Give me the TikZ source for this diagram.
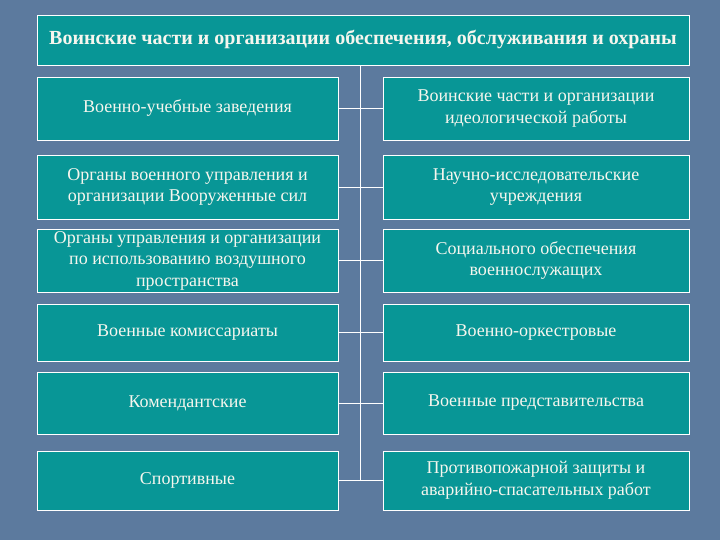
\documentclass[tikz,border=0pt]{standalone}
\usepackage{fontspec}
\setmainfont{Liberation Serif}
\definecolor{bgcol}{RGB}{92,122,158}
\definecolor{boxcol}{RGB}{8,150,150}
\definecolor{txtcol}{RGB}{246,246,238}
\begin{document}
\begin{tikzpicture}[x=1pt,y=-1pt,
  box/.style={draw=white, line width=0.9pt, fill=boxcol, text=txtcol, align=center,
    inner sep=0pt, font=\fontsize{18}{21.5}\selectfont},
  lbox/.style={box, minimum width=301pt},
  rbox/.style={box, minimum width=306pt},
  link/.style={draw=white, line width=0.9pt}]
\fill[bgcol] (0,0) rectangle (720,540);
\useasboundingbox (0,0) rectangle (720,540);
\node[box, minimum width=652pt, minimum height=50pt, font=\bfseries\fontsize{20}{24}\selectfont] (title) at (363,40)
  {Воинские части и организации обеспечения, обслуживания и охраны};
% row 1
\node[lbox, minimum height=63pt] (l1) at (187.5,108.5) {Военно-учебные заведения};
\node[rbox, minimum height=63pt] (r1) at (536,108.5) {Воинские части и организации\\идеологической работы};
% row 2
\node[lbox, minimum height=64pt] (l2) at (187.5,187) {Органы военного управления и\\организации Вооруженные сил};
\node[rbox, minimum height=64pt] (r2) at (536,187) {Научно-исследовательские\\учреждения};
% row 3
\node[lbox, minimum height=63pt] (l3) at (187.5,260.5) {Органы управления и организации\\по использованию воздушного\\пространства};
\node[rbox, minimum height=63pt] (r3) at (536,260.5) {Социального обеспечения\\военнослужащих};
% row 4
\node[lbox, minimum height=57pt] (l4) at (187.5,332.5) {Военные комиссариаты};
\node[rbox, minimum height=57pt] (r4) at (536,332.5) {Военно-оркестровые};
% row 5
\node[lbox, minimum height=62pt] (l5) at (187.5,403) {Комендантские};
\node[rbox, minimum height=62pt] (r5) at (536,403) {Военные представительства};
% row 6
\node[lbox, minimum height=59pt] (l6) at (187.5,480.5) {Спортивные};
\node[rbox, minimum height=59pt] (r6) at (536,480.5) {Противопожарной защиты и\\аварийно-спасательных работ};
% connectors
\draw[link] ([xshift=-2.5pt]title.south) -- ([xshift=-2.5pt]title.south |- l6.east);
\foreach \i in {1,...,6} {\draw[link] (l\i.east) -- (r\i.west);}
\end{tikzpicture}
\end{document}
